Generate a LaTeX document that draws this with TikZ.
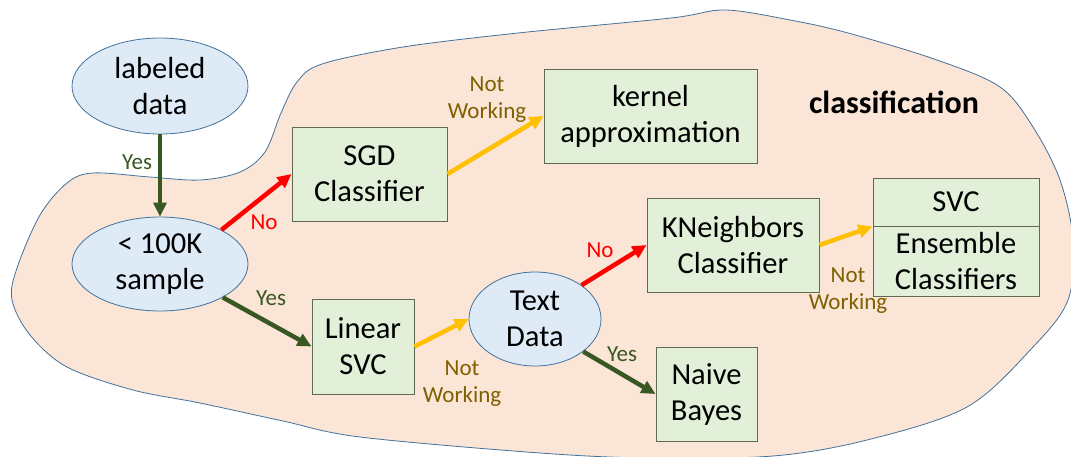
\documentclass[tikz,border=0pt]{standalone}
\usepackage{fontspec}
\setmainfont{Carlito}
\usetikzlibrary{arrows.meta,shapes.geometric}

\definecolor{blobfill}{HTML}{FBE5D6}
\definecolor{outline}{HTML}{41719C}
\definecolor{qfill}{HTML}{DEEBF7}
\definecolor{boxfill}{HTML}{E2F0D9}
\definecolor{boxline}{HTML}{5F6B50}
\definecolor{yesgreen}{HTML}{385723}
\definecolor{nored}{HTML}{FF0000}
\definecolor{nwgold}{HTML}{FFC000}
\definecolor{nwtext}{HTML}{7F6000}

\begin{document}
\begin{tikzpicture}[x=1pt,y=-1pt,
  question/.style={ellipse, draw=outline, fill=qfill, line width=0.8pt,
    inner sep=0pt, align=center, font=\fontsize{30.5}{36}\selectfont},
  model/.style={rectangle, draw=boxline, fill=boxfill, line width=1pt,
    inner sep=0pt, align=center, font=\fontsize{30.5}{36}\selectfont},
  flow/.style={line width=4.5pt, -{Triangle[length=14pt,width=13pt]}},
  yesflow/.style={flow, draw=yesgreen},
  noflow/.style={flow, draw=nored},
  nwflow/.style={flow, draw=nwgold},
  tag/.style={inner sep=0pt, align=center, font=\fontsize{23}{27}\selectfont},
  yestag/.style={tag, text=yesgreen},
  notag/.style={tag, text=nored},
  nwtag/.style={tag, text=nwtext},
]
\useasboundingbox (0,0) rectangle (1071,456);
\clip (0,0) rectangle (1071,456);

% classification region
\draw[outline, fill=blobfill, line width=0.8pt]
  plot[smooth cycle, tension=0.55] coordinates {
    (322,64) (403,47) (518,33) (671,18) (725,10) (790,20) (848,33)
    (937,60) (1000,87) (1033,127) (1060,180) (1073,240) (1068,300)
    (1033,347) (967,407) (867,440) (773,456) (650,458) (540,453)
    (360,437) (283,421) (200,403) (133,390) (67,367) (30,335) (12,300)
    (17,268) (40,215) (67,183) (93,173) (150,177) (200,180) (240,172)
    (265,152) (281,113) (297,82)};

\node[font=\bfseries\fontsize{32}{36}\selectfont, inner sep=0pt] (title) at (894,102) {classification};

% decision nodes
\node[question, minimum width=176pt, minimum height=96pt] (labeled) at (160,86) {labeled\\data};
\node[question, minimum width=176pt, minimum height=94pt] (sample) at (160,264) {< 100K\\sample};
\node[question, minimum width=132pt, minimum height=94pt] (text) at (535,319) {Text\\Data};

% estimators
\node[model, minimum width=155pt, minimum height=94pt] (sgd) at (369.5,174) {SGD\\Classifier};
\node[model, minimum width=213pt, minimum height=94pt] (kernel) at (650.5,116) {kernel\\approximation};
\node[model, minimum width=102pt, minimum height=95pt] (linsvc) at (363,346.5) {Linear\\SVC};
\node[model, minimum width=172pt, minimum height=94pt] (kn) at (733,245) {KNeighbors\\Classifier};
\node[model, minimum width=101pt, minimum height=94pt] (naive) at (706.5,394) {Naive\\Bayes};
\node[model, minimum width=166pt, minimum height=48pt] (svc) at (956,202) {SVC};
\node[model, minimum width=166pt, minimum height=70pt] (ens) at (956,261) {Ensemble\\Classifiers};

% connectors
\draw[yesflow] (labeled.south) -- (sample.north);
\draw[noflow] (sample.29) -- (sgd.west);
\draw[yesflow] (sample.-28) -- (linsvc.west);
\draw[nwflow] (sgd.east) -- (kernel.west);
\draw[nwflow] (linsvc.east) -- (text.west);
\draw[noflow] (text.36) -- (kn.west);
\draw[yesflow] (text.-34) -- (naive.west);
\draw[nwflow] (kn.east) -- (svc.south west);

% connector labels
\node[yestag] (yes1) at (137,162) {Yes};
\node[notag] (no1) at (264,222) {No};
\node[yestag] (yes2) at (271,298) {Yes};
\node[nwtag] (nw1) at (487,100) {Not\\Working};
\node[nwtag] (nw2) at (462,384) {Not\\Working};
\node[notag] (no2) at (600,250) {No};
\node[yestag] (yes3) at (622,354) {Yes};
\node[nwtag] (nw3) at (848,291) {Not\\Working};
\end{tikzpicture}
\end{document}
